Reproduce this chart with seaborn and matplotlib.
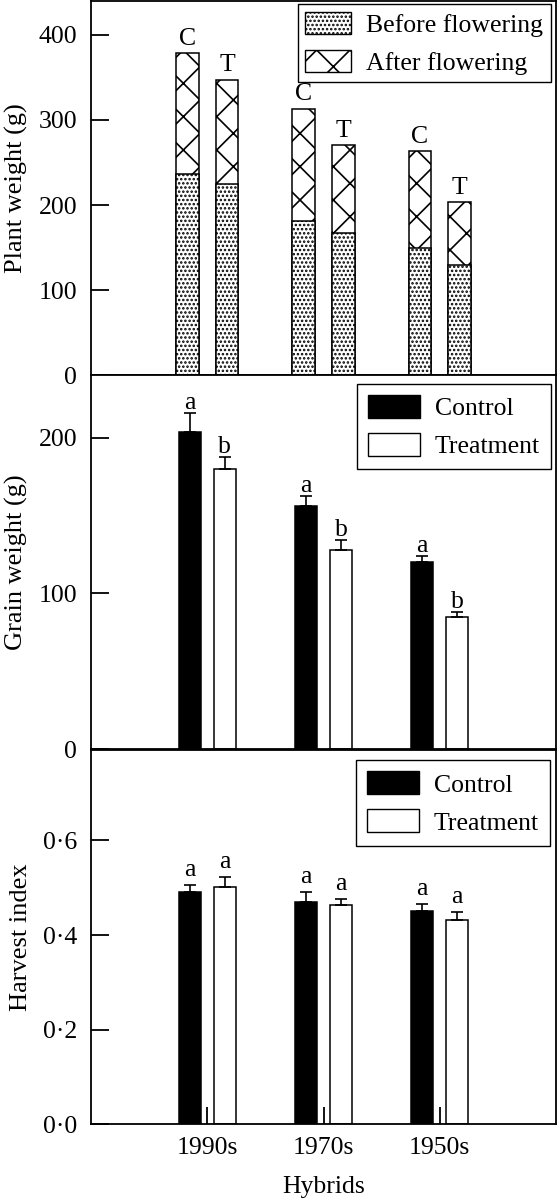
import matplotlib
matplotlib.use("Agg")
import numpy as np
import pandas as pd
import matplotlib.pyplot as plt
import seaborn as sns
from matplotlib.patches import Patch

# dados
hybrids = ['1990s', '1970s', '1950s']
plant_groups = ['C', 'T']
# ordem: 1990s C, 1990s T, 1970s C, 1970s T, 1950s C, 1950s T
before_flowering = [236, 225, 181, 167, 149, 129]
plant_total = [378, 347, 313, 270, 263, 203]

treatments = ['Control', 'Treatment']
grain_weight = [204, 180, 156, 128, 120, 85]
grain_err = [11.6, 7.5, 6.7, 6.2, 3.9, 3.2]
grain_letters = ['a', 'b', 'a', 'b', 'a', 'b']

harvest_index = [0.491, 0.502, 0.471, 0.463, 0.452, 0.432]
harvest_err = [0.014, 0.021, 0.021, 0.014, 0.014, 0.017]
harvest_letters = ['a', 'a', 'a', 'a', 'a', 'a']

plant_ticks = [0, 100, 200, 300, 400]
grain_ticks = [0, 100, 200]
harvest_ticks = [0.0, 0.2, 0.4, 0.6]

FS = 18.5

sns.set_style("ticks", rc={'axes.edgecolor': 'black', 'text.color': 'black',
                           'axes.labelcolor': 'black', 'xtick.color': 'black',
                           'ytick.color': 'black'})
plt.rcParams['font.family'] = ['Liberation Serif', 'DejaVu Serif']
plt.rcParams['font.size'] = FS
plt.rcParams['hatch.linewidth'] = 1.2

plant_df = pd.DataFrame({'Hybrid': np.repeat(hybrids, 2), 'Group': plant_groups * 3,
                         'Before': before_flowering, 'Total': plant_total})
grain_df = pd.DataFrame({'Hybrid': np.repeat(hybrids, 2), 'Group': treatments * 3,
                         'Value': grain_weight, 'Err': grain_err, 'Letter': grain_letters})
harvest_df = pd.DataFrame({'Hybrid': np.repeat(hybrids, 2), 'Group': treatments * 3,
                           'Value': harvest_index, 'Err': harvest_err, 'Letter': harvest_letters})

fig = plt.figure(figsize=(5.58, 11.99), dpi=100)
ax1 = fig.add_axes([0.1631, 0.687, 0.8333, 0.3124])
ax2 = fig.add_axes([0.1631, 0.3753, 0.8333, 0.3119])
ax3 = fig.add_axes([0.1631, 0.0622, 0.8333, 0.3126])


def sorted_bars(container):
    return sorted(container.patches, key=lambda p: p.get_x())


# ---- painel 1: peso da planta (barras empilhadas) ----
sns.barplot(data=plant_df, x='Hybrid', y='Total', hue='Group', order=hybrids,
            hue_order=plant_groups, palette={'C': 'white', 'T': 'white'},
            edgecolor='black', linewidth=1.1, hatch='x', width=0.68, gap=0.43,
            errorbar=None, legend=False, ax=ax1)
total_containers = list(ax1.containers)
sns.barplot(data=plant_df, x='Hybrid', y='Before', hue='Group', order=hybrids,
            hue_order=plant_groups, palette={'C': 'white', 'T': 'white'},
            edgecolor='black', linewidth=1.1, hatch='....', width=0.68, gap=0.43,
            errorbar=None, legend=False, ax=ax1)
for gi, cont in enumerate(total_containers):
    for p in sorted_bars(cont):
        ax1.text(p.get_x() + p.get_width() / 2, p.get_height() + 10, plant_groups[gi],
                 ha='center', va='baseline', fontsize=FS)
ax1.set_ylim(0, 440)
ax1.set_yticks(plant_ticks)
ax1.set_ylabel('Plant weight (g)', fontsize=19)
handles1 = [Patch(facecolor='white', edgecolor='black', hatch='....', label='Before flowering'),
            Patch(facecolor='white', edgecolor='black', hatch='x', label='After flowering')]
leg1 = ax1.legend(handles=handles1, loc='upper right', bbox_to_anchor=(0.9886, 0.99),
                  borderaxespad=0, fancybox=False, framealpha=1, edgecolor='black',
                  handlelength=1.8, handleheight=0.98, handletextpad=0.6,
                  borderpad=0.28, labelspacing=0.5, fontsize=FS)
leg1.get_frame().set_linewidth(1.0)


# ---- paineis 2 e 3: controle x tratamento ----
def painel_barras(ax, df, offset, ylim, ticks, ylabel, fmt=None):
    sns.barplot(data=df, x='Hybrid', y='Value', hue='Group', order=hybrids,
                hue_order=treatments, palette={'Control': 'black', 'Treatment': 'white'},
                edgecolor='black', linewidth=1.1, width=0.6, gap=0.38,
                errorbar=None, legend=False, ax=ax)
    bar_containers = list(ax.containers)
    for gi, cont in enumerate(bar_containers):
        for hi, p in enumerate(sorted_bars(cont)):
            row = df.iloc[hi * 2 + gi]
            xc = p.get_x() + p.get_width() / 2
            ax.errorbar(xc, row['Value'], yerr=[[0], [row['Err']]], fmt='none',
                        ecolor='black', elinewidth=1.2, capsize=4.3, capthick=1.2)
            ax.text(xc, row['Value'] + row['Err'] + offset, row['Letter'],
                    ha='center', va='baseline', fontsize=FS)
    ax.set_ylim(*ylim)
    ax.set_yticks(ticks)
    if fmt:
        ax.set_yticklabels([fmt(t) for t in ticks])
    ax.set_ylabel(ylabel, fontsize=19)
    handles = [Patch(facecolor='black', edgecolor='black', label='Control'),
               Patch(facecolor='white', edgecolor='black', label='Treatment')]
    return handles


h2 = painel_barras(ax2, grain_df, 2.6, (0, 240.3), grain_ticks, 'Grain weight (g)')
leg2 = ax2.legend(handles=h2, loc='upper right', bbox_to_anchor=(0.989, 0.976),
                  borderaxespad=0, fancybox=False, framealpha=1, edgecolor='black',
                  handlelength=2.0, handleheight=1.0, handletextpad=0.6,
                  borderpad=0.42, labelspacing=0.5, fontsize=FS)
leg2.get_frame().set_linewidth(1.0)

h3 = painel_barras(ax3, harvest_df, 0.019, (0, 0.792), harvest_ticks, 'Harvest index',
                   fmt=lambda v: f"{v:.1f}".replace('.', '\u00b7'))
leg3 = ax3.legend(handles=h3, loc='upper right', bbox_to_anchor=(0.987, 0.971),
                  borderaxespad=0, fancybox=False, framealpha=1, edgecolor='black',
                  handlelength=2.0, handleheight=1.0, handletextpad=0.6,
                  borderpad=0.42, labelspacing=0.5, fontsize=FS)
leg3.get_frame().set_linewidth(1.0)

# ---- eixos ----
for ax in (ax1, ax2, ax3):
    ax.set_xlim(-1, 3)
    for s in ax.spines.values():
        s.set_visible(True)
        s.set_linewidth(1.3)
    ax.tick_params(axis='y', direction='in', length=13, width=1.3, pad=10, labelsize=FS)

for ax in (ax1, ax2):
    ax.set_xlabel('')
    ax.tick_params(axis='x', length=0, labelbottom=False)

ax3.tick_params(axis='x', direction='in', length=12, width=1.3, pad=9, labelsize=FS)
ax3.set_xlabel('Hybrids', fontsize=FS, labelpad=12)

ax1.yaxis.set_label_coords(-0.135, 0.5)
ax2.yaxis.set_label_coords(-0.135, 0.5)
ax3.yaxis.set_label_coords(-0.127, 0.5)

fig.savefig('out.png', dpi=100)
